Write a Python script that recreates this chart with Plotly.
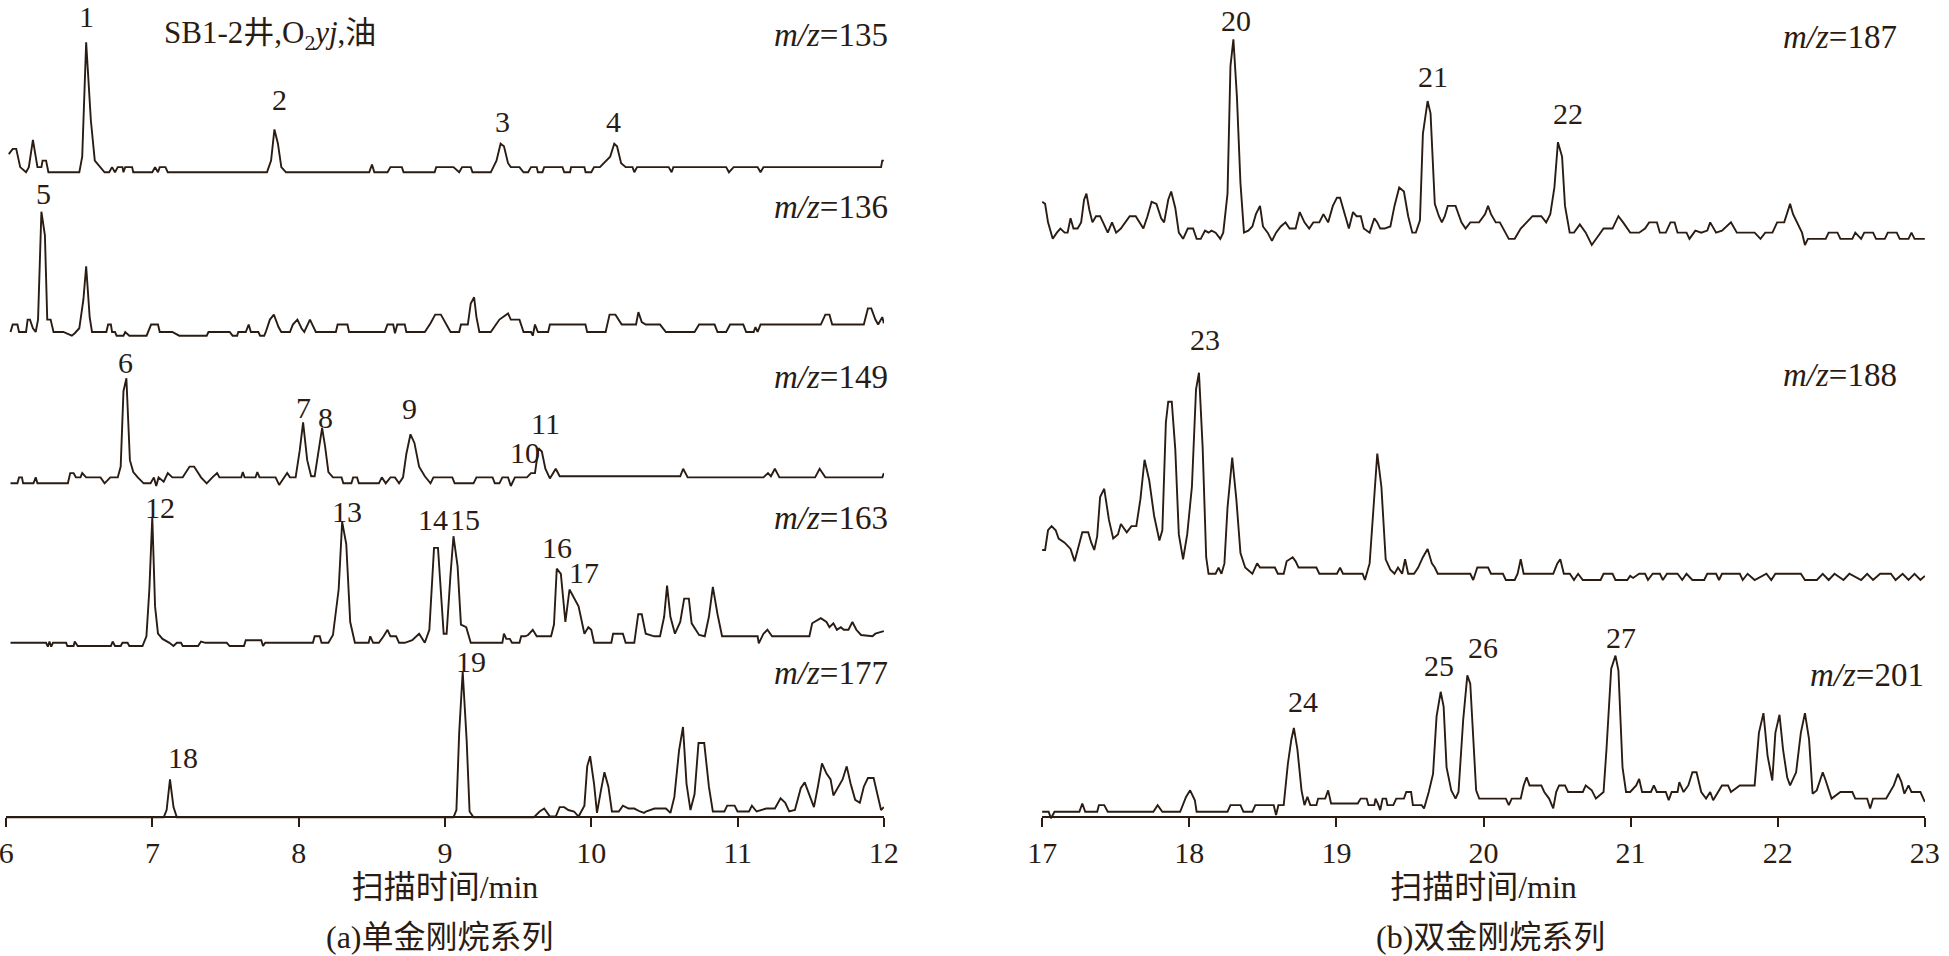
import plotly.graph_objects as go

# ---------------- data: (retention time / min, relative intensity) ----------------
ms135 = [(6.018,14),(6.045,18),(6.069,18),(6.096,4),(6.136,0),(6.155,4),(6.183,25),(6.214,4),(6.241,4),(6.249,9),(6.273,9),(6.289,0),(6.500,0),(6.520,12),(6.547,100),(6.579,40),(6.606,9),(6.646,4),(6.673,0),(6.704,0),(6.724,4),(6.744,0),(6.763,4),(6.795,4),(6.802,0),(6.814,4),(6.861,4),(6.869,0),(6.999,0),(7.018,4),(7.038,0),(7.050,4),(7.089,4),(7.105,0),(7.783,0),(7.811,9),(7.834,33),(7.858,22),(7.881,4),(7.913,0),(8.482,0),(8.501,6),(8.517,0),(8.607,0),(8.627,4),(8.705,4),(8.717,0),(8.929,0),(8.940,4),(9.058,4),(9.097,0),(9.117,4),(9.176,4),(9.188,0),(9.313,0),(9.352,9),(9.380,22),(9.403,20),(9.431,7),(9.450,4),(9.509,4),(9.537,0),(9.568,0),(9.588,4),(9.627,4),(9.635,0),(9.666,0),(9.678,4),(9.803,4),(9.815,0),(9.855,0),(9.862,4),(9.953,4),(9.961,0),(10.000,0),(10.019,4),(10.059,4),(10.129,12),(10.157,22),(10.176,20),(10.204,7),(10.235,4),(10.282,4),(10.294,0),(10.313,4),(10.529,4),(10.549,0),(10.561,4),(10.922,4),(10.941,0),(10.973,4),(11.137,4),(11.157,0),(11.177,4),(11.981,4),(11.989,9),(12.0,9)]

ms136 = [(6.030,3),(6.045,9),(6.077,9),(6.088,3),(6.136,3),(6.147,13),(6.163,13),(6.183,6),(6.202,3),(6.218,13),(6.241,100),(6.265,81),(6.281,13),(6.304,13),(6.324,3),(6.391,3),(6.449,0),(6.469,2),(6.500,6),(6.528,29),(6.547,56),(6.571,15),(6.587,3),(6.685,3),(6.697,9),(6.716,9),(6.724,3),(6.744,3),(6.755,0),(6.802,0),(6.814,3),(6.842,0),(6.960,0),(6.971,3),(6.991,9),(7.038,9),(7.050,3),(7.136,3),(7.183,0),(7.371,0),(7.383,3),(7.528,3),(7.548,0),(7.579,0),(7.587,3),(7.638,3),(7.658,9),(7.673,3),(7.724,3),(7.736,0),(7.764,0),(7.775,3),(7.803,13),(7.830,17),(7.862,7),(7.881,3),(7.940,3),(7.960,9),(7.991,13),(8.019,6),(8.038,3),(8.077,13),(8.117,3),(8.254,3),(8.266,9),(8.333,9),(8.344,3),(8.588,3),(8.607,9),(8.646,9),(8.658,2),(8.674,9),(8.725,9),(8.736,3),(8.862,3),(8.901,10),(8.933,17),(8.972,17),(9.011,9),(9.038,3),(9.097,3),(9.109,9),(9.156,9),(9.176,26),(9.199,31),(9.215,15),(9.235,3),(9.313,3),(9.372,13),(9.431,18),(9.450,13),(9.509,13),(9.537,3),(9.588,3),(9.600,0),(9.615,9),(9.635,3),(9.705,3),(9.717,9),(9.960,9),(9.972,3),(10.098,3),(10.125,17),(10.165,17),(10.208,9),(10.306,9),(10.322,19),(10.345,11),(10.372,9),(10.470,9),(10.510,3),(10.706,3),(10.737,9),(10.843,9),(10.863,3),(10.922,3),(10.949,9),(11.039,9),(11.059,3),(11.110,3),(11.122,7),(11.137,3),(11.157,9),(11.569,9),(11.600,17),(11.628,17),(11.647,9),(11.863,9),(11.891,22),(11.914,22),(11.942,13),(11.961,9),(11.989,15),(12.0,10)]

ms149 = [(6.030,2.5),(6.077,2.5),(6.088,8),(6.108,8),(6.116,2.5),(6.187,2.5),(6.202,8),(6.214,2.5),(6.422,2.5),(6.438,12),(6.461,12),(6.477,8),(6.508,8),(6.520,12),(6.547,8),(6.645,8),(6.673,2.5),(6.712,8),(6.763,8),(6.783,18),(6.802,88),(6.822,100),(6.846,24),(6.869,13),(6.900,8),(6.940,2.5),(6.987,2.5),(7.010,8),(7.026,0),(7.042,8),(7.077,4),(7.105,12),(7.136,8),(7.207,8),(7.254,18),(7.285,18),(7.332,8),(7.371,2.5),(7.410,8),(7.442,12),(7.458,8),(7.607,8),(7.618,13),(7.630,8),(7.705,8),(7.717,13),(7.732,8),(7.842,8),(7.866,1),(7.901,8),(7.921,12),(7.940,8),(7.979,8),(8.007,33),(8.030,59),(8.058,24),(8.085,9),(8.109,9),(8.136,33),(8.160,54),(8.180,37),(8.203,13),(8.234,8),(8.293,8),(8.305,2.5),(8.360,2.5),(8.372,8),(8.399,8),(8.411,2.5),(8.548,2.5),(8.568,8),(8.595,2.5),(8.627,8),(8.658,8),(8.686,2.5),(8.713,8),(8.736,30),(8.764,48),(8.791,40),(8.823,18),(8.862,9),(8.901,2.5),(8.921,8),(9.050,8),(9.066,2.5),(9.195,2.5),(9.215,8),(9.325,8),(9.341,2.5),(9.372,2.5),(9.392,8),(9.431,8),(9.450,0),(9.478,8),(9.560,8),(9.588,12),(9.615,12),(9.639,35),(9.662,32),(9.686,16),(9.717,7),(9.757,16),(9.784,9),(10.608,9),(10.628,16),(10.659,8),(11.177,8),(11.208,12),(11.228,9),(11.255,16),(11.286,8),(11.530,8),(11.561,16),(11.600,8),(11.990,8),(12.0,12)]

ms163 = [(6.030,3),(6.273,3),(6.285,0),(6.296,4),(6.308,0),(6.320,3),(6.351,3),(6.410,3),(6.418,0.5),(6.461,0.5),(6.469,4),(6.489,0.5),(6.716,0.5),(6.728,4),(6.744,0.5),(6.783,0.5),(6.795,3),(6.830,3),(6.842,0.5),(6.932,0.5),(6.959,8),(6.979,44),(6.999,100),(7.018,31),(7.038,10),(7.069,6),(7.116,3),(7.144,0.5),(7.167,3),(7.195,3),(7.207,0.5),(7.312,0.5),(7.332,4),(7.363,3),(7.508,3),(7.528,0.5),(7.626,0.5),(7.638,5),(7.744,5),(7.756,0.5),(7.771,3),(8.097,3),(8.109,8),(8.144,8),(8.156,3),(8.203,3),(8.234,9),(8.273,44),(8.297,96),(8.325,79),(8.352,19),(8.384,3),(8.478,3),(8.489,8),(8.509,3),(8.548,3),(8.580,8),(8.607,13),(8.627,8),(8.666,8),(8.686,3),(8.725,3),(8.776,5),(8.823,10),(8.862,3),(8.893,13),(8.925,76),(8.952,76),(8.991,10),(9.011,10),(9.038,56),(9.058,85),(9.086,62),(9.109,17),(9.145,15),(9.176,3),(9.392,3),(9.403,10),(9.419,6),(9.443,6),(9.458,3),(9.509,3),(9.521,8),(9.548,8),(9.568,9),(9.600,13),(9.627,8),(9.725,8),(9.745,17),(9.764,60),(9.792,56),(9.823,19),(9.851,44),(9.882,38),(9.913,31),(9.953,10),(9.980,15),(10.000,13),(10.019,3),(10.137,3),(10.149,10),(10.216,10),(10.235,3),(10.294,3),(10.321,25),(10.345,25),(10.372,10),(10.431,8),(10.470,8),(10.498,23),(10.518,47),(10.541,23),(10.572,10),(10.608,19),(10.635,37),(10.667,37),(10.686,18),(10.737,9),(10.776,8),(10.804,23),(10.831,46),(10.863,25),(10.894,8),(11.137,8),(11.145,2.5),(11.177,10),(11.204,13),(11.236,8),(11.491,8),(11.510,18),(11.569,22),(11.608,19),(11.628,15),(11.655,18),(11.679,13),(11.706,15),(11.726,13),(11.758,13),(11.785,19),(11.812,13),(11.844,9),(11.922,8),(11.942,10),(12.0,12)]

ms177 = [(6.0,0),(7.077,0),(7.097,5),(7.120,26),(7.144,7),(7.167,0),(9.058,0),(9.078,5),(9.097,58),(9.121,100),(9.148,53),(9.168,4),(9.195,0),(9.607,0),(9.647,4),(9.678,6),(9.717,0.5),(9.757,0.5),(9.784,7),(9.815,7),(9.843,5),(9.882,4),(9.913,0.5),(9.953,8),(9.972,35),(9.992,42),(10.019,23),(10.039,3),(10.067,19),(10.090,31),(10.117,21),(10.141,4),(10.188,4),(10.216,8),(10.255,6),(10.294,6),(10.333,4),(10.361,3),(10.373,4),(10.432,6),(10.510,6),(10.541,3),(10.568,14),(10.600,46),(10.627,62),(10.651,23),(10.678,5),(10.706,16),(10.733,51),(10.772,51),(10.804,21),(10.831,4),(10.910,4),(10.929,8),(10.980,8),(11.000,4),(11.078,4),(11.098,8),(11.130,4),(11.196,6),(11.255,6),(11.294,13),(11.326,10),(11.353,4),(11.392,5),(11.432,20),(11.459,24),(11.491,16),(11.522,7),(11.549,21),(11.577,37),(11.608,30),(11.636,26),(11.655,15),(11.687,21),(11.718,26),(11.746,35),(11.773,23),(11.804,12),(11.836,10),(11.863,21),(11.891,27),(11.930,27),(11.954,16),(11.981,5),(12.0,7)]

ms187 = [(17.000,21),(17.020,20),(17.040,11),(17.072,3),(17.100,6),(17.124,8),(17.153,6),(17.173,6),(17.193,13),(17.213,8),(17.241,8),(17.265,11),(17.285,22),(17.301,25),(17.321,17),(17.342,11),(17.366,14),(17.394,14),(17.414,11),(17.446,6),(17.475,11),(17.503,6),(17.535,8),(17.567,11),(17.595,14),(17.636,14),(17.664,11),(17.688,8),(17.716,14),(17.744,21),(17.777,20),(17.809,13),(17.829,11),(17.857,22),(17.877,26),(17.905,18),(17.929,6),(17.958,3),(17.990,8),(18.026,8),(18.050,3),(18.078,3),(18.107,7),(18.131,6),(18.151,7),(18.179,6),(18.211,3),(18.231,6),(18.260,25),(18.280,87),(18.300,100),(18.324,72),(18.348,30),(18.372,6),(18.401,7),(18.429,9),(18.453,15),(18.481,19),(18.501,9),(18.533,6),(18.562,2),(18.590,6),(18.622,9),(18.654,11),(18.682,8),(18.723,8),(18.751,16),(18.783,11),(18.815,8),(18.843,11),(18.884,11),(18.912,15),(18.944,11),(18.976,19),(19.004,23),(19.025,23),(19.057,15),(19.085,8),(19.113,16),(19.137,14),(19.166,14),(19.186,8),(19.226,6),(19.258,13),(19.278,11),(19.298,8),(19.327,8),(19.367,9),(19.395,19),(19.427,28),(19.459,26),(19.488,14),(19.516,6),(19.540,6),(19.568,12),(19.588,54),(19.620,70),(19.640,64),(19.669,20),(19.697,14),(19.717,11),(19.737,14),(19.757,19),(19.810,19),(19.850,11),(19.878,8),(19.910,11),(19.970,11),(20.011,15),(20.031,19),(20.051,15),(20.083,11),(20.111,11),(20.144,7),(20.172,3),(20.212,3),(20.253,8),(20.293,11),(20.333,14),(20.393,14),(20.426,11),(20.454,15),(20.482,28),(20.506,50),(20.534,43),(20.554,19),(20.586,6),(20.615,6),(20.655,10),(20.695,6),(20.736,0),(20.776,4),(20.816,8),(20.877,8),(20.917,14),(20.949,11),(20.977,8),(20.997,6),(21.058,6),(21.098,8),(21.126,11),(21.179,11),(21.199,6),(21.239,6),(21.271,11),(21.299,11),(21.319,6),(21.380,6),(21.400,3),(21.440,7),(21.480,6),(21.521,7),(21.541,11),(21.581,6),(21.621,7),(21.662,10),(21.682,11),(21.722,6),(21.843,6),(21.883,3),(21.915,6),(21.964,6),(21.996,11),(22.044,11),(22.084,20),(22.104,15),(22.133,11),(22.165,6),(22.185,0),(22.205,3),(22.326,3),(22.346,6),(22.406,6),(22.426,3),(22.507,3),(22.527,6),(22.567,3),(22.588,6),(22.648,6),(22.668,3),(22.728,3),(22.748,6),(22.809,6),(22.829,3),(22.889,3),(22.909,6),(22.930,3),(23.0,3)]

ms188 = [(17.000,14.5),(17.020,14.5),(17.040,24),(17.064,26),(17.092,24),(17.112,20),(17.153,18),(17.193,15),(17.221,9),(17.245,15),(17.273,23),(17.313,23),(17.334,18),(17.354,14.5),(17.374,21),(17.394,40),(17.422,44),(17.454,29),(17.483,20),(17.515,22),(17.535,27),(17.575,23),(17.607,26),(17.640,26),(17.668,39),(17.696,58),(17.728,48),(17.761,31),(17.797,19),(17.817,24),(17.841,76),(17.857,86),(17.881,86),(17.905,63),(17.929,22),(17.958,10),(17.986,22),(18.018,45),(18.046,92),(18.066,100),(18.091,64),(18.115,11),(18.131,3),(18.179,3),(18.199,6),(18.219,3),(18.239,8),(18.260,35),(18.292,59),(18.320,39),(18.348,13),(18.380,6),(18.429,3),(18.461,8),(18.481,6),(18.582,6),(18.602,3),(18.642,3),(18.662,9),(18.703,11),(18.723,9),(18.743,6),(18.864,6),(18.884,3),(19.004,3),(19.025,6),(19.045,3),(19.178,3),(19.194,0),(19.226,8),(19.254,39),(19.278,61),(19.306,45),(19.335,10),(19.367,5),(19.395,3),(19.419,6),(19.447,3),(19.467,10),(19.488,3),(19.528,3),(19.556,6),(19.588,11),(19.620,15),(19.649,8),(19.669,6),(19.689,3),(19.910,3),(19.930,0),(19.958,6),(20.031,6),(20.051,3),(20.132,3),(20.152,0),(20.212,0),(20.232,3),(20.253,10),(20.273,3),(20.474,3),(20.502,8),(20.522,10),(20.546,3),(20.587,3),(20.615,0),(20.643,3),(20.675,0),(20.796,0),(20.816,3),(20.877,3),(20.897,0),(20.977,0),(20.997,2),(21.017,1),(21.058,3),(21.098,3),(21.118,0),(21.150,3),(21.199,3),(21.219,0),(21.247,3),(21.319,3),(21.351,0),(21.380,3),(21.420,0),(21.500,0),(21.521,3),(21.581,3),(21.601,0),(21.621,3),(21.742,3),(21.762,0),(21.795,3),(21.843,0),(21.923,3),(21.956,0),(21.984,3),(22.157,3),(22.185,0),(22.266,0),(22.306,3),(22.346,0),(22.386,3),(22.447,0),(22.487,3),(22.567,0),(22.608,3),(22.648,0),(22.696,3),(22.769,3),(22.801,0),(22.849,3),(22.889,0),(22.930,3),(22.970,0),(23.0,2)]

ms201 = [(17.000,4),(17.044,4),(17.060,0),(17.084,4),(17.253,4),(17.273,9),(17.293,4),(17.374,4),(17.386,8),(17.422,8),(17.446,4),(17.756,4),(17.785,8),(17.817,4),(17.938,4),(17.978,13),(18.006,17),(18.038,11),(18.050,4),(18.260,4),(18.280,8),(18.348,8),(18.368,4),(18.429,4),(18.449,8),(18.574,8),(18.590,2),(18.606,8),(18.642,8),(18.670,33),(18.694,48),(18.711,55),(18.735,42),(18.763,17),(18.783,8),(18.803,13),(18.823,8),(18.864,8),(18.876,12),(18.924,12),(18.944,17),(18.964,9),(19.145,9),(19.165,12),(19.206,12),(19.218,8),(19.258,8),(19.266,12),(19.286,8),(19.298,5),(19.314,12),(19.338,12),(19.347,8),(19.387,8),(19.407,12),(19.459,12),(19.475,16),(19.508,16),(19.520,8),(19.580,8),(19.596,6),(19.628,16),(19.657,27),(19.681,62),(19.709,77),(19.729,68),(19.749,31),(19.781,17),(19.810,12),(19.830,16),(19.862,60),(19.890,87),(19.910,82),(19.930,52),(19.950,17),(19.971,12),(20.152,12),(20.172,8),(20.192,12),(20.253,12),(20.273,20),(20.293,25),(20.313,20),(20.393,20),(20.413,16),(20.446,12),(20.474,6),(20.494,16),(20.514,20),(20.554,20),(20.575,16),(20.675,16),(20.695,20),(20.736,17),(20.764,12),(20.816,16),(20.836,42),(20.868,91),(20.897,99),(20.917,90),(20.945,31),(20.969,16),(20.997,16),(21.038,20),(21.058,24),(21.078,16),(21.138,16),(21.158,20),(21.178,16),(21.239,16),(21.259,11),(21.279,16),(21.319,16),(21.331,22),(21.360,16),(21.392,20),(21.420,28),(21.448,28),(21.480,16),(21.513,12),(21.541,16),(21.561,11),(21.593,16),(21.621,20),(21.662,20),(21.682,16),(21.742,20),(21.843,20),(21.872,52),(21.903,64),(21.931,38),(21.963,23),(21.984,52),(22.012,63),(22.036,42),(22.064,25),(22.084,20),(22.125,28),(22.157,52),(22.185,64),(22.213,48),(22.237,15),(22.265,17),(22.306,28),(22.326,23),(22.366,12),(22.426,16),(22.507,16),(22.527,12),(22.608,12),(22.628,6),(22.648,12),(22.737,12),(22.761,16),(22.789,20),(22.817,27),(22.841,22),(22.861,15),(22.889,20),(22.909,16),(22.970,16),(23.0,10)]

mz_values = [135, 136, 149, 163, 177, 187, 188, 201]
series = [ms135, ms136, ms149, ms163, ms177, ms187, ms188, ms201]

x_ticks_a = [6, 7, 8, 9, 10, 11, 12]
x_ticks_b = [17, 18, 19, 20, 21, 22, 23]

# peak labels: (text, series index, time, intensity level of label)
peak_labels = [
    ("1", 0, 6.547, 120), ("2", 0, 7.872, 56), ("3", 0, 9.390, 39), ("4", 0, 10.155, 39),
    ("5", 1, 6.253, 115),
    ("6", 2, 6.813, 115), ("7", 2, 8.036, 73), ("8", 2, 8.180, 64), ("9", 2, 8.754, 72),
    ("10", 2, 9.547, 31), ("11", 2, 9.684, 58),
    ("12", 3, 7.052, 107), ("13", 3, 8.330, 104), ("14", 3, 8.915, 97.5), ("15", 3, 9.140, 97.5),
    ("16", 3, 9.765, 76), ("17", 3, 9.950, 57),
    ("18", 4, 7.210, 41), ("19", 4, 9.178, 107),
    ("20", 5, 18.318, 109), ("21", 5, 19.657, 82), ("22", 5, 20.574, 64),
    ("23", 6, 18.108, 116),
    ("24", 7, 18.773, 71), ("25", 7, 19.698, 93), ("26", 7, 19.997, 104), ("27", 7, 20.934, 110),
]

# ---------------- layout geometry (pixels) ----------------
W, H_FIG = 1949, 956
BOTTOM = 126
H = H_FIG - BOTTOM          # plot-area height
AXIS_PX = 817               # x-axis line (pixel row)
PANEL_A = (6, 884)
PANEL_B = (1042, 1925)
# (pixel row of intensity 0, pixel row of intensity 100) for each trace
rows_px = [(172.3, 42.3), (335.7, 211.7), (486.0, 378.3), (646.7, 516.7), (817.3, 671.7),
           (245.0, 39.3), (580.0, 372.7), (818.3, 654.0)]
mz_label_pos = [(890, 35), (890, 207), (890, 377), (890, 518), (890, 673),
                (1899, 37), (1899, 375), (1926, 675)]

INK = "#2a1c12"
SERIF = "Liberation Serif, 'Times New Roman', 'Noto Sans CJK SC', serif"
FS = 30

fig = go.Figure()

layout = dict(
    width=W, height=H_FIG,
    margin=dict(l=0, r=0, t=0, b=BOTTOM, pad=0, autoexpand=False),
    paper_bgcolor="white", plot_bgcolor="rgba(0,0,0,0)",
    showlegend=False,
    font=dict(family=SERIF, size=FS, color=INK),
)

def xaxis_cfg(px, ticks):
    return dict(
        domain=[px[0] / W, px[1] / W], range=[ticks[0] - 1e-3, ticks[-1] + 1e-3],
        anchor="free", position=(H - AXIS_PX) / H, automargin=False,
        showline=True, linecolor=INK, linewidth=2,
        ticks="outside", ticklen=9, tickwidth=2, tickcolor=INK,
        tickvals=ticks, ticktext=[str(t) for t in ticks],
        tickfont=dict(family=SERIF, size=FS, color=INK),
        ticklabeloverflow="allow",
        showgrid=False, zeroline=False, fixedrange=True,
        title=dict(text="扫描时间/min", font=dict(family=SERIF, size=32, color=INK), standoff=5),
    )

layout["xaxis"] = xaxis_cfg(PANEL_A, x_ticks_a)
layout["xaxis2"] = xaxis_cfg(PANEL_B, x_ticks_b)

VLO, VHI = -6.0, 130.0
for k, (p0, p100) in enumerate(rows_px):
    s = (p0 - p100) / 100.0
    px_lo = min(p0 - VLO * s, H)
    px_hi = max(p0 - VHI * s, 0)
    r_lo = (p0 - px_lo) / s
    r_hi = (p0 - px_hi) / s
    name = "yaxis" if k == 0 else f"yaxis{k + 1}"
    layout[name] = dict(
        domain=[(H - px_lo) / H, (H - px_hi) / H], range=[r_lo, r_hi],
        visible=False, fixedrange=True, automargin=False,
        anchor="x" if k < 5 else "x2",
    )

for k, pts in enumerate(series):
    t = [p[0] for p in pts]
    v = [p[1] for p in pts]
    fig.add_trace(go.Scatter(
        x=t, y=v, mode="lines",
        line=dict(color=INK, width=1.9),
        xaxis="x" if k < 5 else "x2",
        yaxis="y" if k == 0 else f"y{k + 1}",
        hoverinfo="skip", name=f"m/z={mz_values[k]}",
    ))

ann = []
for text, k, t, v in peak_labels:
    ann.append(dict(
        text=text, x=t, y=v, xref="x" if k < 5 else "x2",
        yref="y" if k == 0 else f"y{k + 1}",
        showarrow=False, xanchor="center", yanchor="middle",
        font=dict(family=SERIF, size=FS, color=INK),
    ))

for k, (px, py) in enumerate(mz_label_pos):
    ann.append(dict(
        text=f"<i>m/z</i>={mz_values[k]}", x=px / W, y=(H - py) / H,
        xref="paper", yref="paper", showarrow=False,
        xanchor="right", yanchor="middle",
        font=dict(family=SERIF, size=33, color=INK),
    ))

ann.append(dict(
    text="SB1-2井,O<sub>2</sub><i>yj</i>,油", x=162 / W, y=(H - 35) / H,
    xref="paper", yref="paper", showarrow=False, xanchor="left", yanchor="middle",
    font=dict(family=SERIF, size=31, color=INK),
))

for text, cx in [("(a)单金刚烷系列", 440), ("(b)双金刚烷系列", 1490)]:
    ann.append(dict(
        text=text, x=cx / W, y=(H - 937) / H, xref="paper", yref="paper",
        showarrow=False, xanchor="center", yanchor="middle",
        font=dict(family=SERIF, size=32, color=INK),
    ))

layout["annotations"] = ann
fig.update_layout(**layout)
fig.write_html("out.html", config={"displayModeBar": False},
               post_script="document.body.style.margin='0px';")
